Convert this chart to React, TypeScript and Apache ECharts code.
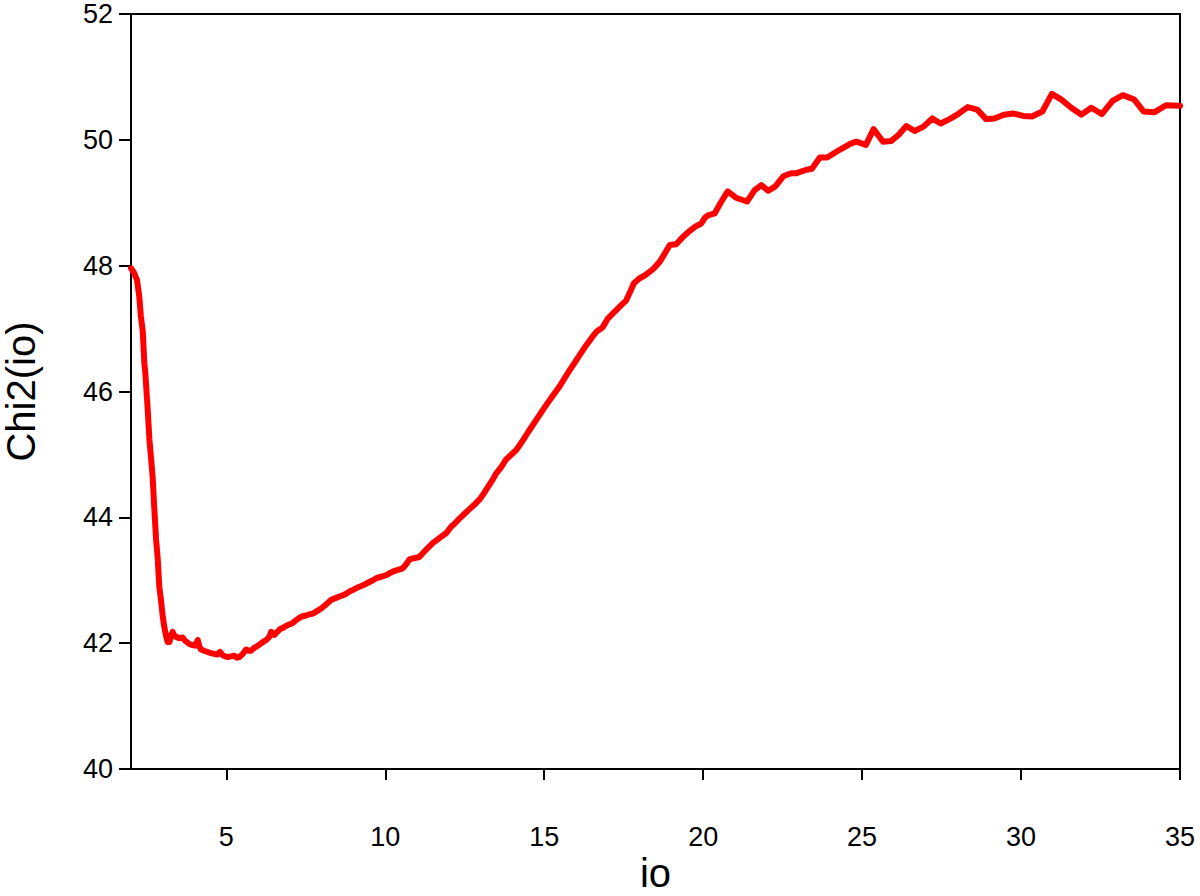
import React, { useEffect, useRef } from "react";
import * as echarts from "echarts";

const ioValues: number[] = [
  2.0, 2.1, 2.19, 2.26, 2.31, 2.37, 2.42, 2.45, 2.52, 2.58, 2.63, 2.68, 2.73, 2.79, 2.84, 2.89, 2.94, 3.0,
  3.05, 3.1, 3.15, 3.21, 3.26, 3.31, 3.36, 3.42, 3.52, 3.62, 3.7, 3.78, 3.86, 3.94, 4.02, 4.1, 4.15, 4.2,
  4.3, 4.41, 4.52, 4.62, 4.72, 4.8, 4.88, 4.96, 5.04, 5.15, 5.25, 5.33, 5.41, 5.5, 5.56, 5.62, 5.7, 5.78,
  5.86, 5.93, 6.02, 6.1, 6.18, 6.25, 6.35, 6.41, 6.46, 6.51, 6.6, 6.68, 6.77, 6.9, 7.0, 7.09, 7.2, 7.35,
  7.5, 7.62, 7.72, 7.85, 7.95, 8.03, 8.15, 8.3, 8.45, 8.6, 8.75, 8.9, 9.0, 9.15, 9.3, 9.45, 9.61, 9.75,
  9.9, 10.03, 10.13, 10.3, 10.42, 10.55, 10.65, 10.76, 10.9, 11.07, 11.2, 11.35, 11.49, 11.65, 11.78,
  11.92, 12.05, 12.2, 12.33, 12.5, 12.65, 12.8, 12.96, 13.1, 13.25, 13.38, 13.49, 13.65, 13.8, 13.95,
  14.12, 14.3, 14.5, 14.75, 15.0, 15.25, 15.48, 15.75, 16.01, 16.3, 16.5, 16.64, 16.84, 17.0, 17.2, 17.4,
  17.58, 17.7, 17.82, 18.0, 18.15, 18.31, 18.45, 18.63, 18.8, 18.95, 19.15, 19.35, 19.57, 19.75, 19.94,
  20.05, 20.15, 20.36, 20.55, 20.77, 21.03, 21.38, 21.62, 21.83, 22.05, 22.27, 22.52, 22.77, 22.94, 23.22,
  23.42, 23.67, 23.9, 24.32, 24.64, 24.82, 25.12, 25.36, 25.66, 25.91, 26.15, 26.39, 26.65, 26.93, 27.21,
  27.47, 27.75, 28.02, 28.32, 28.62, 28.9, 29.16, 29.46, 29.74, 30.07, 30.34, 30.67, 30.97, 31.27, 31.58,
  31.9, 32.21, 32.54, 32.88, 33.2, 33.56, 33.86, 34.2, 34.56, 35.0,
];

const chi2Values: number[] = [
  47.96, 47.88, 47.77, 47.51, 47.2, 46.95, 46.45, 46.3, 45.76, 45.23, 44.95, 44.65, 44.17, 43.64, 43.35,
  42.9, 42.7, 42.42, 42.25, 42.12, 42.02, 42.02, 42.12, 42.18, 42.12, 42.1, 42.08, 42.09, 42.04, 42.01,
  41.98, 41.97, 41.96, 42.05, 41.95, 41.9, 41.88, 41.86, 41.84, 41.83, 41.82, 41.86, 41.81, 41.79, 41.78,
  41.79, 41.8, 41.77, 41.78, 41.82, 41.86, 41.9, 41.88, 41.88, 41.92, 41.94, 41.97, 42.0, 42.03, 42.05,
  42.1, 42.18, 42.14, 42.13, 42.18, 42.22, 42.24, 42.28, 42.3, 42.32, 42.37, 42.42, 42.44, 42.46, 42.47,
  42.51, 42.54, 42.57, 42.62, 42.69, 42.72, 42.75, 42.78, 42.83, 42.85, 42.89, 42.92, 42.96, 43.0, 43.04,
  43.06, 43.08, 43.11, 43.15, 43.17, 43.19, 43.25, 43.33, 43.35, 43.37, 43.44, 43.52, 43.59, 43.65, 43.7,
  43.75, 43.84, 43.91, 43.98, 44.06, 44.13, 44.2, 44.28, 44.38, 44.5, 44.6, 44.7, 44.8, 44.92, 44.99,
  45.07, 45.2, 45.36, 45.55, 45.74, 45.92, 46.08, 46.3, 46.5, 46.72, 46.86, 46.95, 47.02, 47.16, 47.26,
  47.36, 47.45, 47.58, 47.72, 47.8, 47.84, 47.9, 47.96, 48.06, 48.2, 48.33, 48.34, 48.45, 48.55, 48.62,
  48.67, 48.76, 48.8, 48.83, 49.0, 49.18, 49.08, 49.02, 49.2, 49.28, 49.19, 49.26, 49.42, 49.47, 49.47,
  49.52, 49.54, 49.72, 49.72, 49.85, 49.94, 49.97, 49.92, 50.17, 49.97, 49.98, 50.08, 50.22, 50.14, 50.21,
  50.34, 50.26, 50.33, 50.41, 50.52, 50.48, 50.33, 50.34, 50.4, 50.42, 50.38, 50.37, 50.45, 50.73, 50.64,
  50.51, 50.4, 50.51, 50.41, 50.62, 50.71, 50.64, 50.45, 50.44, 50.55, 50.54,
];

const xTickValues: number[] = [5, 10, 15, 20, 25, 30, 35];

const FONT = "'Liberation Sans', Arial, sans-serif";

export default function App() {
  const ref = useRef<HTMLDivElement>(null);

  useEffect(() => {
    if (!ref.current) return;
    const chart = echarts.init(ref.current, undefined, { renderer: "svg" });
    const data = ioValues.map((x, i) => [x, chi2Values[i]]);
    chart.setOption({
      animation: false,
      backgroundColor: "#ffffff",
      grid: {
        left: 131,
        right: 20,
        top: 14,
        bottom: 127,
        containLabel: false,
        outerBoundsMode: "none",
        show: true,
        borderColor: "#000000",
        borderWidth: 2,
        backgroundColor: "transparent",
      },
      xAxis: {
        type: "value",
        min: 2,
        max: 35,
        interval: 1,
        name: "io",
        nameLocation: "middle",
        nameGap: 84,
        nameMoveOverlap: false,
        nameTextStyle: { fontSize: 40, color: "#000", fontFamily: FONT },
        axisLine: { show: true, onZero: false, lineStyle: { color: "#000", width: 2 } },
        axisTick: {
          show: true,
          customValues: xTickValues,
          length: 11,
          inside: false,
          lineStyle: { color: "#000", width: 2 },
        },
        axisLabel: {
          margin: 54,
          fontSize: 27,
          color: "#000",
          fontFamily: FONT,
          verticalAlign: "top",
          showMinLabel: false,
          formatter: (v: number) => (xTickValues.indexOf(v) >= 0 ? String(v) : ""),
        },
        splitLine: { show: false },
      },
      yAxis: {
        type: "value",
        min: 40,
        max: 52,
        interval: 2,
        name: "Chi2(io)",
        nameLocation: "middle",
        nameGap: 90,
        nameMoveOverlap: false,
        nameTextStyle: { fontSize: 40, color: "#000", fontFamily: FONT },
        axisLine: { show: true, onZero: false, lineStyle: { color: "#000", width: 2 } },
        axisTick: { show: true, length: 12, inside: false, lineStyle: { color: "#000", width: 2 } },
        axisLabel: { margin: 18, fontSize: 27, color: "#000", fontFamily: FONT },
        splitLine: { show: false },
      },
      series: [
        {
          type: "line",
          data,
          showSymbol: false,
          symbol: "none",
          smooth: false,
          lineStyle: { color: "#ff0000", width: 6, join: "round", cap: "round" },
          clip: true,
        },
      ],
    });
    return () => chart.dispose();
  }, []);

  return (
    <div
      ref={ref}
      style={{ position: "fixed", left: 0, top: 0, width: 1200, height: 896, background: "#fff" }}
    />
  );
}
